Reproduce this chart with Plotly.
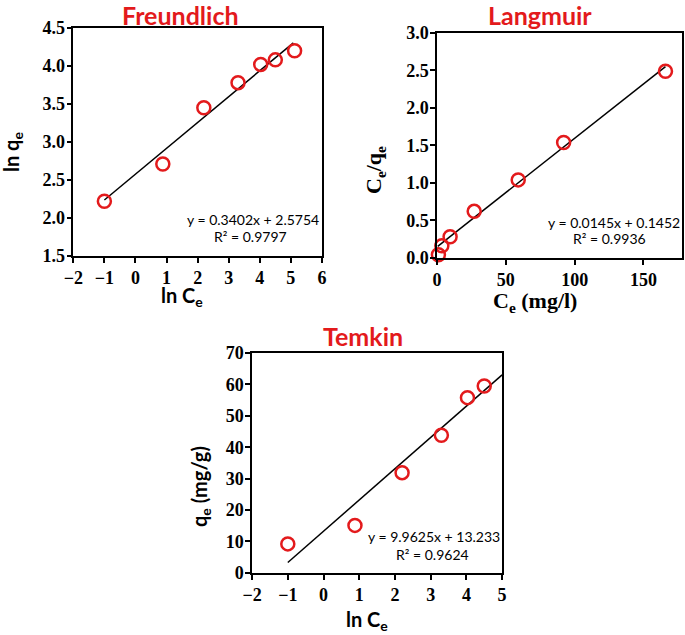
import plotly.graph_objects as go

# Freundlich: ln Ce vs ln qe
fr_x = [-1.0, 0.88, 2.2, 3.3, 4.03, 4.5, 5.12]
fr_y = [2.22, 2.71, 3.45, 3.78, 4.02, 4.08, 4.20]
fr_fit = (0.3402, 2.5754)
fr_fit_x = [-1.0, 5.08]

# Langmuir: Ce vs Ce/qe
la_x = [1.0, 3.5, 9.5, 27.0, 59.0, 92.0, 166.0]
la_y = [0.04, 0.16, 0.28, 0.62, 1.04, 1.54, 2.49]
la_fit = (0.0145, 0.1452)
la_fit_x = [0.5, 166.0]

# Temkin: ln Ce vs qe
te_x = [-1.0, 0.88, 2.2, 3.3, 4.03, 4.5]
te_y = [9.2, 15.1, 31.9, 43.8, 55.8, 59.5]
te_fit = (9.9625, 13.233)
te_fit_x = [-1.0, 5.0]

RED = "#e31a1c"
SANS = "Lato"

fig = go.Figure()


def add_panel(xs, ys, fit, fit_x, xa, ya):
    fy = [fit[0] * v + fit[1] for v in fit_x]
    fig.add_trace(go.Scatter(x=fit_x, y=fy, mode="lines", xaxis=xa, yaxis=ya,
                             line=dict(color="black", width=1.5), showlegend=False))
    fig.add_trace(go.Scatter(x=xs, y=ys, mode="markers", xaxis=xa, yaxis=ya,
                             cliponaxis=False,
                             marker=dict(symbol="circle-open", size=13, color=RED,
                                         line=dict(width=2.5, color=RED)),
                             showlegend=False))


add_panel(fr_x, fr_y, fr_fit, fr_fit_x, "x", "y")
add_panel(la_x, la_y, la_fit, la_fit_x, "x2", "y2")
add_panel(te_x, te_y, te_fit, te_fit_x, "x3", "y3")

fig.update_layout(
    width=685, height=635,
    paper_bgcolor="white", plot_bgcolor="white",
    margin=dict(l=0, r=0, t=0, b=0),
    xaxis=dict(domain=[0.107, 0.470], anchor="y", range=[-2, 6], dtick=1),
    yaxis=dict(domain=[0.597, 0.956], anchor="x", range=[1.5, 4.5], dtick=0.5, tickformat=".1f"),
    xaxis2=dict(domain=[0.638, 0.9956], anchor="y2", range=[0, 178], dtick=50),
    yaxis2=dict(domain=[0.594, 0.948], anchor="x2", range=[0, 3.0], dtick=0.5, tickformat=".1f"),
    xaxis3=dict(domain=[0.368, 0.733], anchor="y3", range=[-2, 5], dtick=1),
    yaxis3=dict(domain=[0.098, 0.444], anchor="x3", range=[0, 70], dtick=10),
)

axis_style = dict(showline=True, linecolor="black", linewidth=1.5, mirror=True,
                  ticks="outside", ticklen=5, tickcolor="black", tickwidth=1.5,
                  showgrid=False, zeroline=False, automargin=False,
                  tickfont=dict(family="Liberation Serif, serif", size=18,
                                color="black", weight="bold"))
fig.update_xaxes(**axis_style)
fig.update_yaxes(**axis_style, ticklabelstandoff=-2)

title_font = dict(family=SANS, size=25, color=RED, weight="bold")
label_sans = dict(family=SANS, size=20, color="black", weight="bold")
label_serif = dict(family="Liberation Serif", size=22, color="black", weight="bold")
eq_font = dict(family=SANS, size=14, color="black")

anns = [
    # panel titles
    dict(text="Freundlich", x=180, y=15, font=title_font),
    dict(text="Langmuir", x=540, y=15, font=title_font),
    dict(text="Temkin", x=363, y=336, font=title_font),
    # axis titles
    dict(text="ln q<sub>e</sub>", x=12, y=152, textangle=-90, font=label_sans),
    dict(text="ln C<sub>e</sub>", x=182, y=297, font=label_sans),
    dict(text="C<sub>e</sub>/q<sub>e</sub>", x=375, y=170, textangle=-90, font=label_serif),
    dict(text="C<sub>e</sub> (mg/l)", x=535, y=302, font=label_serif),
    dict(text="q<sub>e</sub> (mg/g)", x=201, y=487, textangle=-90, font=label_sans),
    dict(text="ln C<sub>e</sub>", x=367, y=620, font=label_sans),
    # fit equations
    dict(text="y = 0.3402x + 2.5754", x=321, y=219, xanchor="right", font=eq_font),
    dict(text="R² = 0.9797", x=250, y=236, font=eq_font),
    dict(text="y = 0.0145x + 0.1452", x=682, y=222, xanchor="right", font=eq_font),
    dict(text="R² = 0.9936", x=609, y=239, font=eq_font),
    dict(text="y = 9.9625x + 13.233", x=502, y=536, xanchor="right", font=eq_font),
    dict(text="R² = 0.9624", x=432, y=554, font=eq_font),
]
for a in anns:
    a.setdefault("xanchor", "center")
    fig.add_annotation(text=a["text"], x=a["x"] / 685, y=1 - a["y"] / 635,
                       xref="paper", yref="paper", xanchor=a["xanchor"], yanchor="middle",
                       textangle=a.get("textangle", 0), showarrow=False, font=a["font"])

# drop the browser's default body margin so the figure sits at the window corner
fig.write_html("out.html", config={"displayModeBar": False},
               post_script="document.body.style.margin='0';")
